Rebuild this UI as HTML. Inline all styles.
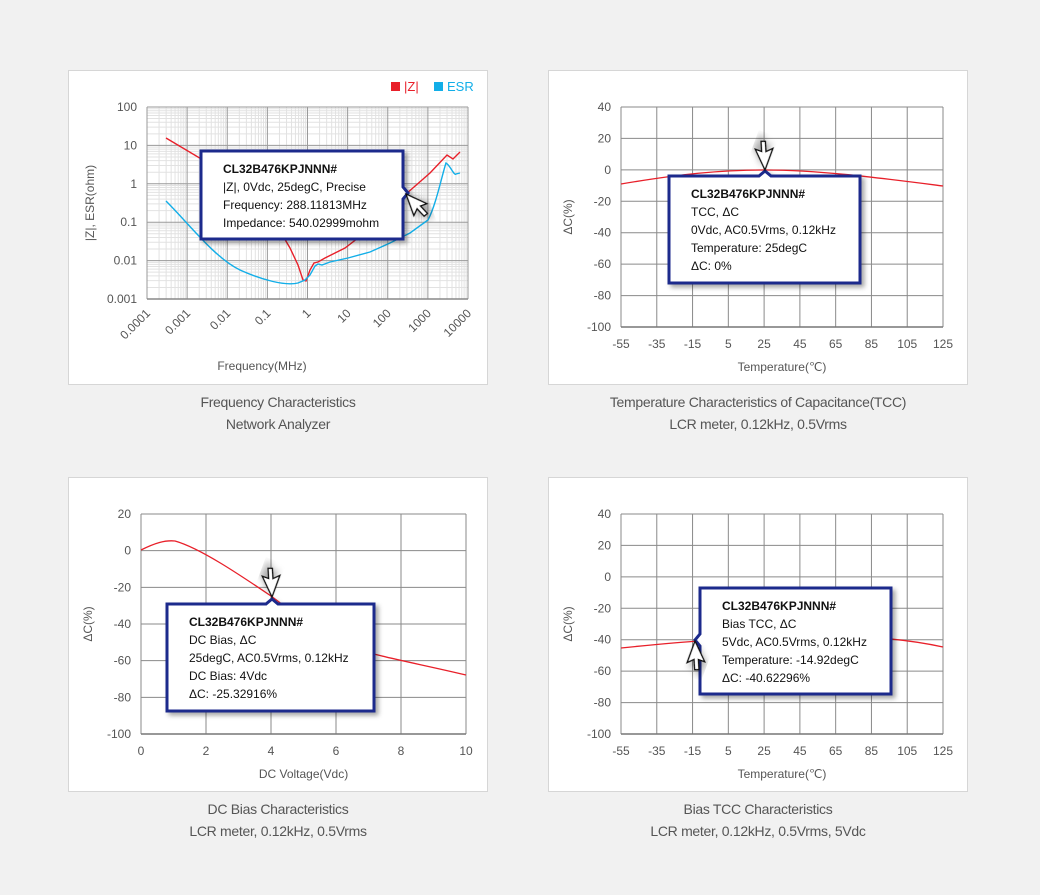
<!DOCTYPE html>
<html><head><meta charset="utf-8"><style>
html,body{margin:0;padding:0;background:#f1f1f1;}
body{width:1040px;height:890px;overflow:hidden;font-family:"Liberation Sans",Arial,sans-serif;}
svg text{font-family:"Liberation Sans",Arial,sans-serif;}
</style></head><body>
<svg id="s" width="1040" height="890" xmlns="http://www.w3.org/2000/svg">
<defs>
<filter id="sh" x="-10%" y="-10%" width="130%" height="140%"><feDropShadow dx="3" dy="3" stdDeviation="2.5" flood-color="#000" flood-opacity="0.35"/></filter>
</defs>
<rect x="68.5" y="70.5" width="419" height="314" fill="#fff" stroke="#d6d6d6"/>
<rect x="548.5" y="70.5" width="419" height="314" fill="#fff" stroke="#d6d6d6"/>
<rect x="68.5" y="477.5" width="419" height="314" fill="#fff" stroke="#d6d6d6"/>
<rect x="548.5" y="477.5" width="419" height="314" fill="#fff" stroke="#d6d6d6"/>
<g id="grids"></g>
<g font-size="14" fill="#555" text-anchor="middle" letter-spacing="-0.3">
<text x="278" y="407">Frequency Characteristics</text>
<text x="278" y="429">Network Analyzer</text>
<text x="758" y="407">Temperature Characteristics of Capacitance(TCC)</text>
<text x="758" y="429">LCR meter, 0.12kHz, 0.5Vrms</text>
<text x="278" y="814">DC Bias Characteristics</text>
<text x="278" y="836">LCR meter, 0.12kHz, 0.5Vrms</text>
<text x="758" y="814">Bias TCC Characteristics</text>
<text x="758" y="836">LCR meter, 0.12kHz, 0.5Vrms, 5Vdc</text>
</g>
<rect x="391" y="82" width="9" height="9" fill="#e8202a"/><text x="404" y="91" font-size="13" fill="#e8202a">|Z|</text>
<rect x="434" y="82" width="9" height="9" fill="#12aee8"/><text x="447" y="91" font-size="13" fill="#12aee8">ESR</text>
<path d="M166,138 L230,176 L270,214 L290,248 L298,265 L303,280 L306,281 L310,270 L314,263 L318,262 L325,258 L345,248 L375,225 L406,194 L430,173 L447,155 L453,159 L460,152" fill="none" stroke="#e8202a" stroke-width="1.4"/>
<path d="M166,201 C190,225 215,258 240,270 C262,280 285,286 298,283 L305,280 L310,275 L315,266 L318,264 L322,265 L330,262 L348,258 L370,252 L390,243 L410,233 L428,220 C436,205 442,175 446,163 C450,165 454,176 456,174 L460,173" fill="none" stroke="#12aee8" stroke-width="1.4"/>
<path d="M621,184 C680,174 720,170 765,170 C820,170 880,178 943,186" fill="none" stroke="#e8202a" stroke-width="1.3"/>
<path d="M141,550 C155,543 165,540 175,541 C200,548 240,575 271,596 C300,617 320,638 345,646 C380,657 420,664 466,675" fill="none" stroke="#e8202a" stroke-width="1.3"/>
<path d="M621,648 C660,644 680,642 700,641 C780,634 850,636 880,638 C905,640 925,643 943,647" fill="none" stroke="#e8202a" stroke-width="1.3"/>
<g id="tips"></g>
</svg>
<script>
var g=document.getElementById('grids'),h='';
function L(x1,y1,x2,y2,c,w){h+='<line x1="'+x1+'" y1="'+y1+'" x2="'+x2+'" y2="'+y2+'" stroke="'+c+'" stroke-width="'+(w||1)+'"/>';}
function T(x,y,t,a,extra){h+='<text x="'+x+'" y="'+y+'" font-size="12" fill="#555" text-anchor="'+a+'" '+(extra||'')+'>'+t+'</text>';}
var x0=147,x1=468,y0=107,y1=299,dx=(x1-x0)/8,dy=(y1-y0)/5;
for(var d=0;d<8;d++)for(var k=2;k<10;k++){var x=x0+(d+Math.log10(k))*dx;L(x,y0,x,y1,'#e2e2e2');}
for(var d=0;d<5;d++)for(var k=2;k<10;k++){var y=y1-(d+Math.log10(k))*dy;L(x0,y,x1,y,'#e2e2e2');}
for(var d=0;d<=8;d++){var x=x0+d*dx;L(x,y0,x,y1,'#9a9a9a');}
for(var d=0;d<=5;d++){var y=y0+d*dy;L(x0,y,x1,y,'#9a9a9a');}
L(x0,y1,x1,y1,'#888',1.5);
var yl=['100','10','1','0.1','0.01','0.001'];
for(var d=0;d<=5;d++)T(137,y0+d*dy+4,yl[d],'end');
var xl=['0.0001','0.001','0.01','0.1','1','10','100','1000','10000'];
for(var d=0;d<=8;d++){var x=x0+d*dx+4,y=314;T(x,y,xl[d],'end','transform="rotate(-45 '+x+' '+y+')"');}
T(262,370,'Frequency(MHz)','middle');
T(94,203,'|Z|, ESR(ohm)','middle','transform="rotate(-90 94 203)"');
function lin(xa,xb,nx,ya,yb,ny,xlab,ylab,ttl,ytl,ylx){
 for(var i=0;i<=nx;i++){var x=xa+i*(xb-xa)/nx;L(x,ya,x,yb,'#8a8a8a');T(x,yb+21,xlab[i],'middle');}
 for(var j=0;j<=ny;j++){var y=ya+j*(yb-ya)/ny;L(xa,y,xb,y,'#8a8a8a');T(xa-10,y+4,ylab[j],'end');}
 L(xa,yb,xb,yb,'#777',1.5);
 T((xa+xb)/2,yb+44,ttl,'middle');
 T(ylx,(ya+yb)/2,ytl,'middle','transform="rotate(-90 '+ylx+' '+(ya+yb)/2+')"');
}
var tx=['-55','-35','-15','5','25','45','65','85','105','125'];
var ty=['40','20','0','-20','-40','-60','-80','-100'];
lin(621,943,9,107,327,7,tx,ty,'Temperature(℃)','ΔC(%)',572);
lin(621,943,9,514,734,7,tx,ty,'Temperature(℃)','ΔC(%)',572);
lin(141,466,5,514,734,6,['0','2','4','6','8','10'],['20','0','-20','-40','-60','-80','-100'],'DC Voltage(Vdc)','ΔC(%)',92);
g.innerHTML=h;
var tp='';
function tip(x,y,w,hh,notch,lines,cur){
 var p;
 if(notch[0]=='r'){var ny=notch[1];p='M'+x+','+y+' H'+(x+w)+' V'+(ny-6)+' L'+(x+w+5)+','+ny+' L'+(x+w)+','+(ny+6)+' V'+(y+hh)+' H'+x+' Z';}
 else if(notch[0]=='t'){var nx=notch[1];p='M'+x+','+y+' H'+(nx-6)+' L'+nx+','+(y-5)+' L'+(nx+6)+','+y+' H'+(x+w)+' V'+(y+hh)+' H'+x+' Z';}
 else {var ny=notch[1];p='M'+x+','+y+' H'+(x+w)+' V'+(y+hh)+' H'+x+' V'+(ny+6)+' L'+(x-5)+','+ny+' L'+x+','+(ny-6)+' Z';}
 tp+='<path d="'+p+'" fill="#fff" stroke="#1b2a8c" stroke-width="3" filter="url(#sh)"/>';
 for(var i=0;i<lines.length;i++)tp+='<text x="'+(x+22)+'" y="'+(y+22+i*18)+'" font-size="12" fill="#111" '+(i==0?'font-weight="bold"':'')+'>'+lines[i]+'</text>';
 tp+=cur;
}
function arrow(x,y,rot){return '<g transform="translate('+x+' '+y+') rotate('+rot+') scale(1.35)" filter="url(#sh)"><path d="M0,0 L0,17 L4,13 L7,20 L10,19 L7,12 L12,12 Z" fill="#fff" stroke="#111" stroke-width="1"/></g>';}
tip(201,151,202,88,['r',193],['CL32B476KPJNNN#','|Z|, 0Vdc, 25degC, Precise','Frequency: 288.11813MHz','Impedance: 540.02999mohm'],arrow(406,194,-20));
tip(669,176,191,107,['t',765],['CL32B476KPJNNN#','TCC, ΔC','0Vdc, AC0.5Vrms, 0.12kHz','Temperature: 25degC','ΔC: 0%'],arrow(765,170,200));
tip(167,604,207,107,['t',272],['CL32B476KPJNNN#','DC Bias, ΔC','25degC, AC0.5Vrms, 0.12kHz','DC Bias: 4Vdc','ΔC: -25.32916%'],arrow(272,597,200));
tip(700,588,191,106,['l',640],['CL32B476KPJNNN#','Bias TCC, ΔC','5Vdc, AC0.5Vrms, 0.12kHz','Temperature: -14.92degC','ΔC: -40.62296%'],arrow(695,641,20));
document.getElementById('tips').innerHTML=tp;
</script>
</body></html>
